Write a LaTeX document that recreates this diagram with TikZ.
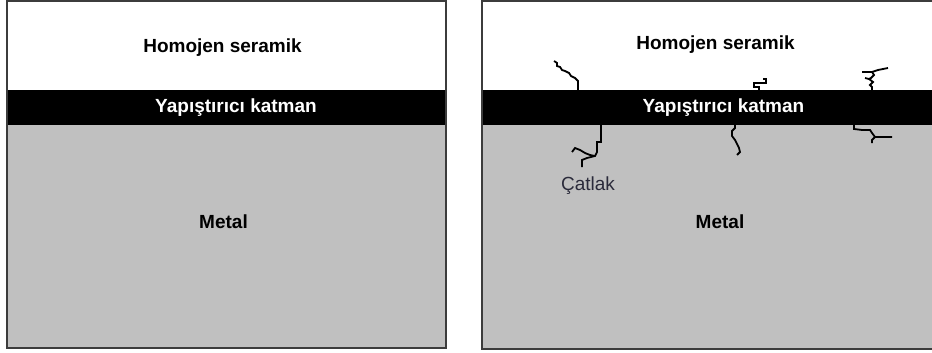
\documentclass[tikz,border=0pt]{standalone}
\usepackage{fontspec}
\setmainfont{Liberation Sans}
\usetikzlibrary{positioning}
\definecolor{MetalGray}{HTML}{C0C0C0}
\definecolor{FrameInk}{HTML}{3C3C3C}
\definecolor{NoteInk}{HTML}{2A2A3A}

\begin{document}
\begin{tikzpicture}[
    x=1pt,
    y=-1pt,
    layertext/.style={font=\fontsize{19}{22}\selectfont\bfseries, text=black, inner sep=0pt, anchor=base},
    bandtext/.style={layertext, text=white},
    notetext/.style={font=\fontsize{19}{22}\selectfont, text=NoteInk, inner sep=0pt, anchor=base},
    frameline/.style={draw=FrameInk, line width=1.5pt},
    crackline/.style={draw=black, line width=1.8pt, line join=miter}
]

\useasboundingbox (0,0) rectangle (932,353);
\clip (0,0) rectangle (932,353);
\fill[white] (0,0) rectangle (932,353);

% sound coating
\fill[white] (7,1) rectangle (446,90);
\fill[black] (7,90) rectangle (446,125);
\fill[MetalGray] (7,125) rectangle (446,348);
\draw[frameline] (7,1) rectangle (446,348);

\node[layertext] (ceramicA) at (222.5,53) {Homojen seramik};
\node[bandtext] (bondA) at (236,113) {Yapıştırıcı katman};
\node[layertext] (metalA) at (223.5,228) {Metal};

% cracked coating
\fill[white] (482,1) rectangle (940,90);
\fill[black] (482,90) rectangle (940,125);
\fill[MetalGray] (482,125) rectangle (940,349);
\draw[frameline] (482,1) rectangle (940,349);

\node[layertext] (ceramicB) at (715.5,50) {Homojen seramik};
\node[bandtext] (bondB) at (723.5,113) {Yapıştırıcı katman};
\node[layertext] (metalB) at (720,228) {Metal};
\node[notetext] (crackNote) at (588,190) {Çatlak};

\draw[crackline] (578,90) -- (578,81) -- (575,78) -- (571,76) -- (569,73) -- (565,71) -- (562,70) -- (560,67) -- (557,66) -- (557,63) -- (554,61);
\draw[crackline] (601,125) -- (601,142) -- (597,142) -- (597,152) -- (595,156) -- (587,158) -- (582,160) -- (582,167);
\draw[crackline] (595,156) -- (590,155) -- (585,153) -- (580,150) -- (575,148) -- (572,152);
\draw[crackline] (759,90) -- (759,87) -- (754,87) -- (754,83) -- (766,83) -- (766,79) -- (763,79);
\draw[crackline] (735,125) -- (735,128) -- (732,131) -- (732,136) -- (735,140) -- (737,144) -- (739,148) -- (740,152) -- (737,155);
\draw[crackline] (872,90) -- (872,87) -- (870,85) -- (873,82) -- (869,79) -- (871,78) -- (874,75) -- (872,72) -- (862,72);
\draw[crackline] (872,72) -- (878,70) -- (888,68);
\draw[crackline] (869,79) -- (865,78);
\draw[crackline] (854,125) -- (854,129) -- (862,130) -- (870,130) -- (872,133) -- (875,137) -- (892,137);
\draw[crackline] (875,137) -- (872,140) -- (872,143);

\end{tikzpicture}
\end{document}
